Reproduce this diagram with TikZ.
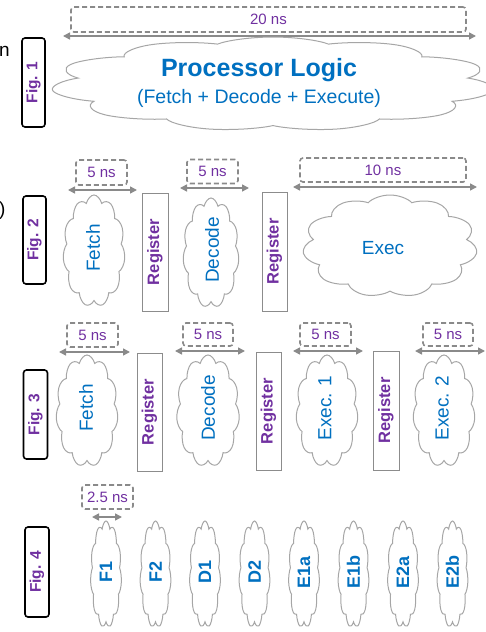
\documentclass[tikz,border=0pt]{standalone}
\usepackage{fontspec}
\setmainfont{Liberation Sans}
\usetikzlibrary{shapes.symbols,arrows.meta}
\definecolor{tblue}{HTML}{0070C0}
\definecolor{tpurple}{HTML}{7030A0}
\definecolor{cloudgray}{HTML}{A6A6A6}
\definecolor{dimgray}{HTML}{8A8A8A}
\definecolor{reggray}{HTML}{8C8C8C}
\tikzset{
  cloudshape/.style={cloud, cloud puffs=11, cloud puff arc=125, cloud ignores aspect, draw=cloudgray, line width=1pt, fill=white, inner sep=0pt, minimum width=100pt, minimum height=100pt},
  dimbox/.style={draw=dimgray, dashed, dash pattern=on 5pt off 3pt, line width=1.6pt, rounded corners=3pt, inner sep=0pt, text=tpurple, font=\fontsize{15}{15}\selectfont},
  dimarrow/.style={draw=dimgray, line width=1.5pt, {Triangle[length=7pt,width=7pt]}-{Triangle[length=7pt,width=7pt]}},
  regbox/.style={draw=reggray, line width=1pt, fill=white, inner sep=0pt, minimum width=26pt, minimum height=118pt, text=tpurple, font=\bfseries\fontsize{16.5}{16.5}\selectfont},
  figbox/.style={draw=black, line width=1.6pt, rounded corners=3pt, inner sep=0pt, minimum width=23pt, minimum height=89pt, text=tpurple, font=\bfseries\fontsize{15.5}{15.5}\selectfont},
  stagetext/.style={text=tblue, inner sep=0pt, font=\fontsize{19}{19}\selectfont},
  subtext/.style={text=tblue, inner sep=0pt, font=\bfseries\fontsize{18}{18}\selectfont},
}
% \mycloud{name}{x}{y}{width}{height}
\newcommand\mycloud[5]{%
  \begin{scope}[shift={(#2,#3)}, xscale=#4/100, yscale=#5/100, transform shape]
    \node[cloudshape] (#1) at (0,0) {};
  \end{scope}}
\begin{document}
\begin{tikzpicture}[x=1pt,y=-1pt]
\useasboundingbox (0,0) rectangle (486,632);
% fragments at the left edge
\node[inner sep=0pt, font=\fontsize{19}{19}\selectfont] (frag1) at (4.5,51) {n};
\node[inner sep=0pt, anchor=west, font=\fontsize{19}{19}\selectfont] (frag2) at (-1,211) {)};

% ---------- Fig. 1 ----------
\node[figbox] (f1) at (33.5,82.5) {\rotatebox{90}{Fig. 1}};
\node[dimbox, minimum width=395pt, minimum height=25pt] (d1) at (268.5,19.5) {20 ns};
\coordinate (a1l) at (63,36); \coordinate (a1r) at (476,36);
\draw[dimarrow] (a1l) -- (a1r);
\mycloud{c1}{273}{84}{445}{94}
\node[text=tblue, inner sep=0pt, font=\bfseries\fontsize{25}{25}\selectfont] (t1) at (259,70) {Processor Logic};
\node[text=tblue, inner sep=0pt, font=\fontsize{19.5}{19.5}\selectfont] (t1b) at (259,98) {(Fetch + Decode + Execute)};

% ---------- Fig. 2 ----------
\node[figbox, minimum height=88pt] (f2) at (34.5,240) {\rotatebox{90}{Fig. 2}};
\node[dimbox, minimum width=51pt, minimum height=25pt] (d2a) at (101.5,172.5) {5 ns};
\coordinate (a2al) at (68,190); \coordinate (a2ar) at (137,190);
\draw[dimarrow] (a2al) -- (a2ar);
\node[dimbox, minimum width=51pt, minimum height=24pt] (d2b) at (212.5,171.5) {5 ns};
\coordinate (a2bl) at (180,188); \coordinate (a2br) at (249,188);
\draw[dimarrow] (a2bl) -- (a2br);
\node[dimbox, minimum width=166pt, minimum height=24pt] (d2c) at (383,170) {10 ns};
\coordinate (a2cl) at (293,187); \coordinate (a2cr) at (477,187);
\draw[dimarrow] (a2cl) -- (a2cr);

\mycloud{c2a}{94}{251}{62}{112}
\node[stagetext] (t2a) at (93,248) {\rotatebox{90}{Fetch}};
\node[regbox] (r2a) at (155,252) {\rotatebox{90}{Register}};
\mycloud{c2b}{211}{253}{56}{110}
\node[stagetext] (t2b) at (212,250) {\rotatebox{90}{Decode}};
\node[regbox, minimum width=25pt, minimum height=119pt] (r2b) at (274.5,251.5) {\rotatebox{90}{Register}};
\mycloud{c2c}{390}{246}{175}{102}
\node[stagetext] (t2c) at (383,248) {Exec};

% ---------- Fig. 3 ----------
\node[figbox, minimum width=24pt] (f3) at (35.5,414.5) {\rotatebox{90}{Fig. 3}};
\node[dimbox, minimum width=51pt, minimum height=24pt] (d3a) at (92.5,335) {5 ns};
\coordinate (a3al) at (59,352); \coordinate (a3ar) at (130,352);
\draw[dimarrow] (a3al) -- (a3ar);
\node[dimbox, minimum width=50pt, minimum height=23pt] (d3b) at (208,334.5) {5 ns};
\coordinate (a3bl) at (175,351); \coordinate (a3br) at (245,351);
\draw[dimarrow] (a3bl) -- (a3br);
\node[dimbox, minimum width=51pt, minimum height=23pt] (d3c) at (325.5,334.5) {5 ns};
\coordinate (a3cl) at (293,351); \coordinate (a3cr) at (363,351);
\draw[dimarrow] (a3cl) -- (a3cr);
\node[dimbox, minimum width=50pt, minimum height=23pt] (d3d) at (448,334.5) {5 ns};
\coordinate (a3dl) at (415,351); \coordinate (a3dr) at (485,351);
\draw[dimarrow] (a3dl) -- (a3dr);

\mycloud{c3a}{87}{411}{62}{112}
\node[stagetext] (t3a) at (86,408) {\rotatebox{90}{Fetch}};
\node[regbox, minimum width=25pt] (r3a) at (149.5,412) {\rotatebox{90}{Register}};
\mycloud{c3b}{208}{411}{63}{112}
\node[stagetext] (t3b) at (208,408) {\rotatebox{90}{Decode}};
\node[regbox, minimum width=25pt] (r3b) at (268.5,411) {\rotatebox{90}{Register}};
\mycloud{c3c}{327}{411}{62}{112}
\node[stagetext] (t3c) at (325,408) {\rotatebox{90}{Exec. 1}};
\node[regbox, minimum height=119pt] (r3c) at (386,410.5) {\rotatebox{90}{Register}};
\mycloud{c3d}{444}{411}{62}{112}
\node[stagetext] (t3d) at (442,408) {\rotatebox{90}{Exec. 2}};

% ---------- Fig. 4 ----------
\node[figbox, minimum width=24pt, minimum height=90pt] (f4) at (37,572) {\rotatebox{90}{Fig. 4}};
\node[dimbox, minimum width=51pt, minimum height=24pt] (d4) at (107.5,497) {2.5 ns};
\coordinate (a4l) at (92,517); \coordinate (a4r) at (122,517);
\draw[dimarrow] (a4l) -- (a4r);

\foreach \xx/\nm/\lab in {106/g1/F1, 155.5/g2/F2, 205/g3/D1, 254.5/g4/D2, 304/g5/E1a, 353.5/g6/E1b, 403/g7/E2a, 452.5/g8/E2b}{
  \mycloud{c\nm}{\xx}{574.5}{31}{107}
  \node[subtext] (t\nm) at (\xx,572) {\rotatebox{90}{\lab}};
}
\end{tikzpicture}
\end{document}
